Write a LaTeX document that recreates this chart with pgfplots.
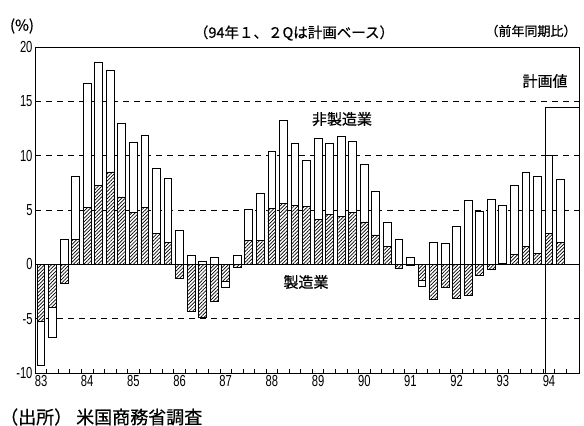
\documentclass[border=0pt]{standalone}
\usepackage{pgfplots}
\pgfplotsset{compat=1.18}
\usepackage{pgfplotstable}
\usepackage{fontspec}
\usetikzlibrary{patterns.meta}
\newfontfamily\jp[FakeBold=0.6]{Noto Sans CJK JP}
\newfontfamily\numfont[FakeStretch=0.7]{Liberation Sans}

\pgfplotstableread{
i mfg non
0 -5.3 -9.35
1 -4.0 -6.7
2 -1.8 2.25
3 2.3 8.1
4 5.2 16.6
5 7.3 18.6
6 8.5 17.8
7 6.2 13.0
8 4.8 11.2
9 5.2 11.9
10 2.8 8.8
11 2.0 7.9
12 -1.3 3.1
13 -4.3 0.8
14 -4.9 0.3
15 -3.4 0.6
16 -1.6 -2.1
17 -0.3 0.8
18 2.2 5.05
19 2.2 6.5
20 5.1 10.4
21 5.6 13.2
22 5.4 11.1
23 5.3 9.6
24 4.1 11.6
25 4.6 11.1
26 4.4 11.8
27 4.8 11.3
28 3.9 9.2
29 2.7 6.7
30 1.6 3.9
31 -0.4 2.3
32 -0.1 0.6
33 -1.5 -2.0
34 -3.2 2.0
35 -2.1 1.9
36 -3.1 3.5
37 -2.9 5.9
38 -1.0 4.9
39 -0.5 6.0
40 0.05 5.4
41 0.9 7.3
42 1.6 8.5
43 1.0 8.1
44 2.8 10.0
45 2.0 7.8
}\data

\begin{document}
\begin{tikzpicture}
\path[use as bounding box] (0,0) rectangle (584bp,426bp);
\begin{axis}[
  at={(35bp,53bp)}, anchor=south west,
  scale only axis, width=544bp, height=326bp,
  xmin=-0.52, xmax=46.6, ymin=-10, ymax=20,
  axis line style={line width=1pt},
  ytick={-10,-5,0,5,10,15,20},
  ytick pos=left,
  xtick={0.5,1.5,2.5,3.5,4.5,5.5,6.5,7.5,8.5,9.5,10.5,11.5,12.5,13.5,14.5,15.5,16.5,17.5,18.5,19.5,20.5,21.5,22.5,23.5,24.5,25.5,26.5,27.5,28.5,29.5,30.5,31.5,32.5,33.5,34.5,35.5,36.5,37.5,38.5,39.5,40.5,41.5,42.5,43.5,44.5,45.5},
  xticklabels={},
  xtick pos=bottom,
  extra x ticks={0,4,8,12,16,20,24,28,32,36,40,44},
  extra x tick labels={83,84,85,86,87,88,89,90,91,92,93,94},
  extra x tick style={tick style={draw=none}},
  tick align=inside,
  major tick length=3.5bp,
  tick style={line width=0.9pt, black},
  tick label style={font=\numfont\fontsize{16bp}{16bp}\selectfont},
  yticklabel style={xshift=1bp},
  xticklabel style={yshift=1bp},
  /pgf/number format/assume math mode=true,
  ymajorgrids=true,
  major grid style={dash pattern=on 6bp off 5bp, line width=0.9pt, black},
]
\addplot[ybar, bar width=0.68, bar shift=0pt, fill=white, draw=black, line width=0.9pt] table[x=i,y=non]{\data};
\addplot[ybar, bar width=0.68, bar shift=0pt, fill=white, draw=black, line width=0.9pt,
  postaction={pattern={Lines[angle=45,distance=2.5bp,line width=0.7bp]}}] table[x=i,y=mfg]{\data};
\draw[line width=1.2pt] (axis cs:-0.52,0) -- (axis cs:46.6,0);
\draw[line width=1pt] (axis cs:43.72,-10) |- (axis cs:46.6,14.4);
\end{axis}
\node[font=\jp\fontsize{15bp}{15bp}\selectfont] at (22bp,400bp) {(\%)};
\node[font=\jp\fontsize{14.5bp}{15bp}\selectfont] at (294bp,393bp) {（94年１、２Qは計画ベース）};
\node[font=\jp\fontsize{13bp}{13bp}\selectfont, anchor=east] at (580bp,395bp) {（前年同期比）};
\node[font=\jp\fontsize{15bp}{15bp}\selectfont] at (342bp,307bp) {非製造業};
\node[font=\jp\fontsize{15bp}{15bp}\selectfont] at (306bp,144bp) {製造業};
\node[font=\jp\fontsize{15bp}{15bp}\selectfont] at (545bp,345bp) {計画値};
\node[font=\jp\fontsize{18bp}{18bp}\selectfont, anchor=west, inner sep=0pt] at (0bp,9bp) {（出所） 米国商務省調査};
\end{tikzpicture}
\end{document}
